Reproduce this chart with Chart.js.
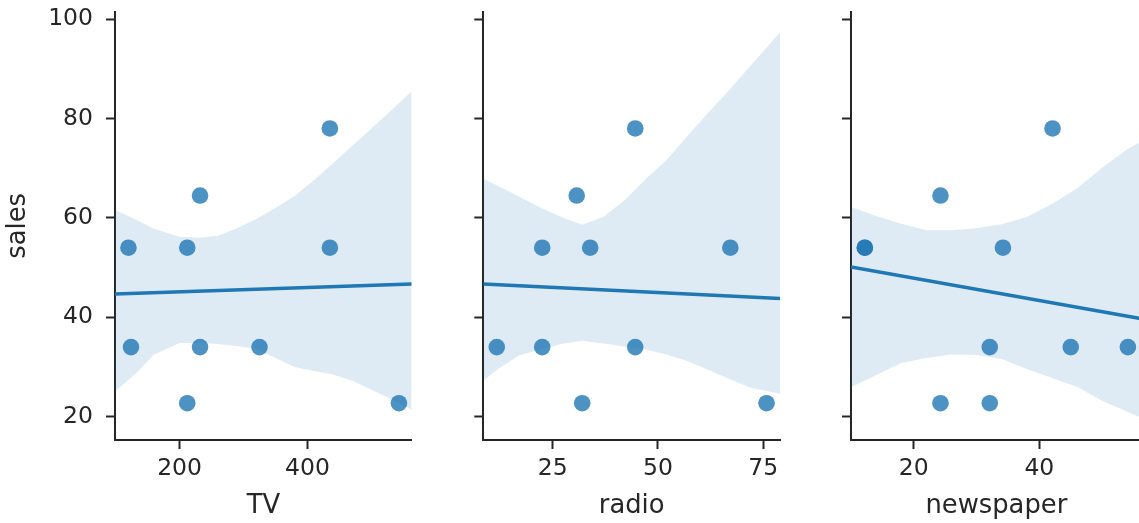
<!DOCTYPE html>
<html>
<head>
<meta charset="utf-8">
<script src="https://cdn.jsdelivr.net/npm/chart.js@4.4.1/dist/chart.umd.min.js"></script>
<style>
  html, body { margin: 0; padding: 0; background: #fff; overflow: hidden; width: 1139px; height: 523px; }
  canvas { position: absolute; top: 0; }
</style>
</head>
<body>
<canvas id="cvTV"></canvas>
<canvas id="cvRadio"></canvas>
<canvas id="cvNews"></canvas>
<script>
// shared y axis (sales)
const salesTicks = [20, 40, 60, 80, 100]
const salesMin = 15.3
const salesMax = 101.5

// TV panel
const tvValues = [120, 124, 212, 212, 232, 232, 325, 435, 435, 543]
const tvSales = [54, 34, 54, 22.7, 64.5, 34, 34, 78, 54, 22.7]
const tvTicks = [200, 400]
const tvFitX = [99, 563]
const tvFitY = [44.7, 46.7]
const tvBandX = [99, 130, 160, 200, 230, 260, 290, 320, 350, 380, 410, 440, 470, 500, 530, 563]
const tvBandUpper = [61.6, 59.8, 57.8, 56.2, 56.0, 56.4, 57.9, 59.8, 62.0, 64.4, 67.6, 71.0, 74.5, 78.0, 81.5, 85.5]
const tvBandLower = [25.1, 28.5, 32.5, 34.8, 34.8, 34.6, 34.2, 33.6, 31.8, 30.0, 29.2, 28.5, 27.2, 25.4, 23.6, 21.4]

// radio panel
const radioValues = [11.7, 22.5, 22.5, 30.7, 32, 33.9, 44.6, 44.6, 67.2, 75.8]
const radioSales = [34, 54, 34, 64.5, 22.7, 54, 78, 34, 54, 22.7]
const radioTicks = [25, 50, 75]
const radioFitX = [8.5, 79]
const radioFitY = [46.7, 43.8]
const radioBandX = [8.5, 12.5, 17, 22, 27, 32, 37, 42, 47, 52, 57, 62, 67, 72, 79]
const radioBandUpper = [67.9, 66.2, 64.3, 62.1, 60.2, 58.6, 60.2, 63.5, 67.8, 71.6, 76.5, 81.2, 85.8, 90.6, 97.3]
const radioBandLower = [27.3, 29.9, 32.3, 33.5, 34.6, 35.3, 34.7, 34.1, 33.5, 32.5, 31.2, 29.4, 27.6, 25.8, 24.6]

// newspaper panel
const newsValues = [12.2, 12.2, 24.25, 24.25, 32.1, 32.1, 34.2, 42.1, 45, 54.1]
const newsSales = [54, 54, 64.5, 22.7, 34, 22.7, 54, 78, 34, 34]
const newsTicks = [20, 40]
const newsFitX = [10, 56.3]
const newsFitY = [50.1, 39.7]
const newsBandX = [10, 14, 18, 22, 26, 30, 34, 38, 42, 46, 50, 54, 56.3]
const newsBandUpper = [62.2, 60.4, 58.8, 57.5, 57.5, 57.9, 58.7, 60.2, 62.8, 65.9, 70.1, 73.8, 75.5]
const newsBandLower = [25.9, 28.4, 30.8, 31.8, 32.5, 32.4, 31.6, 29.6, 27.8, 26.0, 23.2, 21.0, 19.8]

const INK = '#262626'
const DOT = 'rgba(31, 119, 180, 0.8)'
const LINE = '#1f77b4'
const BAND = 'rgba(31, 119, 180, 0.15)'
const FONT = 'DejaVu Sans'
const NONE = 'rgba(0, 0, 0, 0)'

function zip(xs, ys) {
  return xs.map((x, i) => ({ x: x, y: ys[i] }))
}

/**
 * One regplot panel on its own canvas
 */
function makePanel(id, p) {
  const cv = document.getElementById(id)
  cv.width = p.w
  cv.height = 523
  cv.style.left = p.left + 'px'

  return new Chart(cv, {
    type: 'scatter',
    data: {
      datasets: [{
        data: zip(p.fitX, p.fitY),
        showLine: true, borderColor: LINE, borderWidth: 3.5, pointRadius: 0
      }, {
        data: zip(p.x, p.y),
        pointRadius: 8.3, pointBackgroundColor: DOT, pointBorderWidth: 0, pointBorderColor: NONE
      }, {
        data: zip(p.bandX, p.upper),
        showLine: true, borderColor: NONE, borderWidth: 0, pointRadius: 0,
        fill: '+1', backgroundColor: BAND
      }, {
        data: zip(p.bandX, p.lower),
        showLine: true, borderColor: NONE, borderWidth: 0, pointRadius: 0, fill: false
      }]
    },
    options: {
      responsive: false,
      animation: false,
      events: [],
      layout: { padding: { top: 11.7, right: p.padRight, left: 0, bottom: 0 } },
      plugins: { legend: { display: false }, tooltip: { enabled: false } },
      scales: {
        x: {
          type: 'linear', min: p.min, max: p.max,
          grid: { drawOnChartArea: false, drawTicks: true, tickLength: 9, tickColor: INK, tickWidth: 2 },
          border: { display: true, color: INK, width: 2 },
          ticks: { color: INK, font: { family: FONT, size: 23.5 }, padding: 6, maxRotation: 0 },
          title: { display: true, text: p.label, color: INK, font: { family: FONT, size: 25.8 }, padding: { top: 0, bottom: 1 } },
          afterBuildTicks: s => { s.ticks = p.ticks.map(v => ({ value: v })) },
          afterFit: s => { s.height = 83; s.paddingLeft = 0; s.paddingRight = 0 }
        },
        y: {
          type: 'linear', min: salesMin, max: salesMax,
          grid: { drawOnChartArea: false, drawTicks: true, tickLength: 9, tickColor: INK, tickWidth: 2 },
          border: { display: true, color: INK, width: 2 },
          ticks: { display: p.showY, color: INK, font: { family: FONT, size: 23.5 }, padding: 13 },
          title: { display: p.showY, text: 'sales', color: INK, font: { family: FONT, size: 25.8 }, padding: { top: 3, bottom: 0 } },
          afterBuildTicks: s => { s.ticks = salesTicks.map(v => ({ value: v })) },
          afterFit: s => { s.width = p.axisW; s.paddingTop = 0; s.paddingBottom = 0 }
        }
      }
    }
  })
}

makePanel('cvTV', {
  left: 0, w: 420, axisW: 115, padRight: 8, showY: true,
  min: 99, max: 563, ticks: tvTicks, label: 'TV',
  x: tvValues, y: tvSales, fitX: tvFitX, fitY: tvFitY,
  bandX: tvBandX, upper: tvBandUpper, lower: tvBandLower
})

makePanel('cvRadio', {
  left: 420, w: 370, axisW: 63.3, padRight: 10, showY: false,
  min: 8.5, max: 79, ticks: radioTicks, label: 'radio',
  x: radioValues, y: radioSales, fitX: radioFitX, fitY: radioFitY,
  bandX: radioBandX, upper: radioBandUpper, lower: radioBandLower
})

makePanel('cvNews', {
  left: 790, w: 360, axisW: 61, padRight: 2.4, showY: false,
  min: 10, max: 56.3, ticks: newsTicks, label: 'newspaper',
  x: newsValues, y: newsSales, fitX: newsFitX, fitY: newsFitY,
  bandX: newsBandX, upper: newsBandUpper, lower: newsBandLower
})
</script>
</body>
</html>
